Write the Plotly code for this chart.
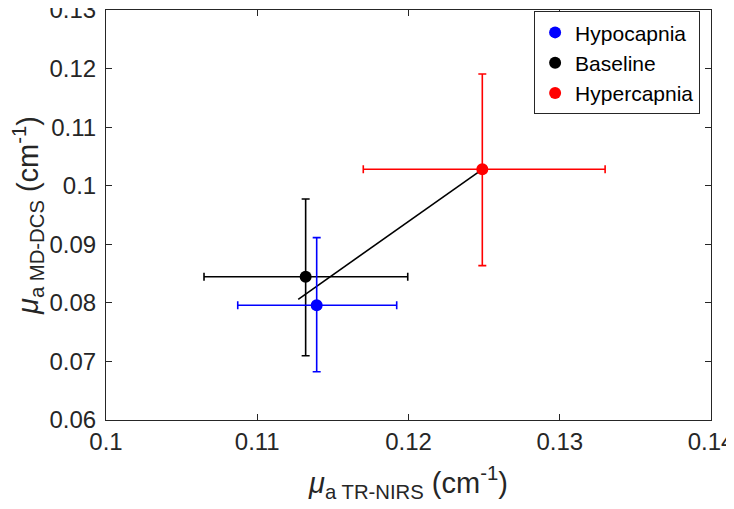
import plotly.graph_objects as go

# ---- data ----
conditions = ["Hypocapnia", "Baseline", "Hypercapnia"]
colors = ["#0000ff", "#000000", "#ff0000"]
mu_tr_nirs = [0.11393, 0.11320, 0.12488]          # x centres
mu_md_dcs = [0.07958, 0.08447, 0.10280]           # y centres
x_low = [0.10871, 0.10648, 0.11701]
x_high = [0.11922, 0.11995, 0.13300]
y_low = [0.06825, 0.07098, 0.08635]
y_high = [0.09113, 0.09773, 0.11908]
fit_x = [0.11271, 0.12488]
fit_y = [0.08061, 0.10280]

x_ticks = [0.10, 0.11, 0.12, 0.13, 0.14]
x_ticklabels = ["0.1", "0.11", "0.12", "0.13", "0.14"]
y_ticks = [0.06, 0.07, 0.08, 0.09, 0.10, 0.11, 0.12, 0.13]
y_ticklabels = ["0.06", "0.07", "0.08", "0.09", "0.1", "0.11", "0.12", "0.13"]

FONT = "Liberation Sans, Arial, Helvetica, sans-serif"
fig = go.Figure()

fig.add_trace(go.Scatter(x=fit_x, y=fit_y, mode="lines",
                         line=dict(color="black", width=1.6),
                         showlegend=False, hoverinfo="skip"))

draw_order = [1, 0, 2]
for i in draw_order:
    fig.add_trace(go.Scatter(
        x=[mu_tr_nirs[i]], y=[mu_md_dcs[i]], mode="markers",
        name=conditions[i], legendrank=i + 1,
        marker=dict(color=colors[i], size=12),
        error_x=dict(type="data", symmetric=False,
                     array=[x_high[i] - mu_tr_nirs[i]],
                     arrayminus=[mu_tr_nirs[i] - x_low[i]],
                     color=colors[i], thickness=1.6, width=4),
        error_y=dict(type="data", symmetric=False,
                     array=[y_high[i] - mu_md_dcs[i]],
                     arrayminus=[mu_md_dcs[i] - y_low[i]],
                     color=colors[i], thickness=1.6, width=4),
    ))

axis_common = dict(showline=True, mirror="ticks", linecolor="#262626", linewidth=1,
                   ticks="inside", ticklen=6, tickcolor="#262626",
                   showgrid=False, zeroline=False, ticklabeloverflow="allow",
                   automargin=False,
                   tickfont=dict(family=FONT, size=24, color="#262626"))

fig.update_xaxes(range=[0.0999999, 0.1400001], tickvals=x_ticks, ticktext=x_ticklabels,
                 title=dict(text="<i>μ</i><sub>a TR-NIRS</sub> (cm<sup>-1</sup>)",
                            font=dict(family=FONT, size=29, color="#262626"), standoff=18),
                 **axis_common)
fig.update_yaxes(range=[0.0599999, 0.1300001], tickvals=y_ticks, ticktext=y_ticklabels,
                 ticklabelstandoff=4,
                 title=dict(text="<i>μ</i><sub>a MD-DCS</sub> (cm<sup>-1</sup>)",
                            font=dict(family=FONT, size=29, color="#262626"), standoff=8),
                 **axis_common)

fig.update_layout(
    width=726, height=501,
    margin=dict(l=98, r=23, t=2, b=89, autoexpand=False),
    plot_bgcolor="white", paper_bgcolor="white",
    font=dict(family=FONT, color="#262626"),
    legend=dict(x=0.982, y=0.997, xanchor="right", yanchor="top",
                bgcolor="white", bordercolor="#262626", borderwidth=1,
                font=dict(family=FONT, size=21, color="black"),
                itemwidth=30, tracegroupgap=0),
)

fig.write_html("out.html")
